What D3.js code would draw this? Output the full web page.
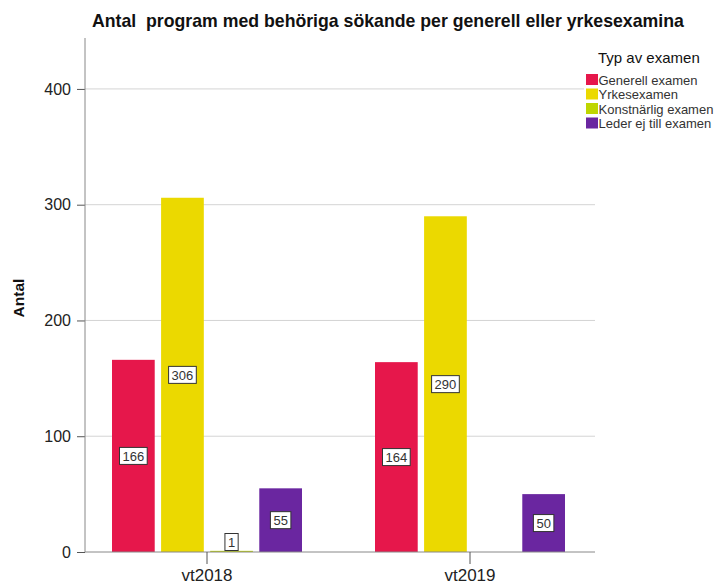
<!DOCTYPE html>
<html>
<head>
<meta charset="utf-8">
<script src="https://cdn.jsdelivr.net/npm/d3@7"></script>
<style>
  html, body { margin: 0; padding: 0; background: #fff; }
  svg { display: block; font-family: Arial, "Liberation Sans", sans-serif; }
</style>
</head>
<body>
<svg id="chart" width="717" height="587"></svg>
<script>
// Terms and exam types
const terms = ["vt2018", "vt2019"];
const examTypes = ["Generell examen", "Yrkesexamen", "Konstnärlig examen", "Leder ej till examen"];
const examColors = ["#e6174b", "#ebd900", "#bfd600", "#6a26a0"];

// Number of programmes per exam type, one array per term
const vt2018 = [166, 306, 1, 55];
const vt2019 = [164, 290, 0, 50];

const yTicks = [0, 100, 200, 300, 400];

const titleText = "Antal  program med behöriga sökande per generell eller yrkesexamina";
const yTitle = "Antal";
const legendTitle = "Typ av examen";

const values = [vt2018, vt2019];

const svg = d3.select("#chart");
const plot = { left: 85, right: 595, top: 38, bottom: 552 };

const x = d3.scaleBand().domain(terms).range([75.5, 601.5]).padding(0);
const inner = d3.scaleBand().domain(examTypes).range([-95, 95]).paddingInner(0.13).paddingOuter(0);
const y = d3.scaleLinear().domain([0, 444]).range([plot.bottom, plot.top]);

// Title
svg.append("text")
  .attr("x", 92).attr("y", 27)
  .attr("font-size", 17.7).attr("font-weight", "bold").attr("fill", "#111")
  .style("white-space", "pre")
  .attr("xml:space", "preserve")
  .text(titleText);

// Grid lines
svg.append("g").selectAll("line")
  .data(yTicks.filter(d => d > 0))
  .join("line")
  .attr("x1", plot.left).attr("x2", plot.right)
  .attr("y1", d => y(d)).attr("y2", d => y(d))
  .attr("stroke", "#d4d4d4").attr("stroke-width", 1);

// Y axis
const yAxis = svg.append("g")
  .attr("transform", `translate(${plot.left},0)`)
  .call(d3.axisLeft(y).tickValues(yTicks).tickSize(8).tickPadding(6).tickFormat(d3.format("d")));
yAxis.select(".domain").remove();
yAxis.selectAll(".tick line").attr("stroke", "#555");
yAxis.selectAll(".tick text").attr("font-size", 16).attr("fill", "#222").attr("font-family", "Arial, 'Liberation Sans', sans-serif");
svg.append("line")
  .attr("x1", plot.left).attr("x2", plot.left)
  .attr("y1", plot.top).attr("y2", plot.bottom)
  .attr("stroke", "#888");

// Y title
svg.append("text")
  .attr("transform", `translate(24,298) rotate(-90)`)
  .attr("text-anchor", "middle")
  .attr("font-size", 15.5).attr("font-weight", "bold").attr("fill", "#111")
  .text(yTitle);

// Bars
const groups = svg.append("g").selectAll("g")
  .data(terms.map((t, i) => ({ term: t, vals: values[i] })))
  .join("g")
  .attr("transform", d => `translate(${x(d.term) + x.bandwidth() / 2},0)`);

const cells = groups.selectAll("g.cell")
  .data(d => d.vals.map((v, j) => ({ type: examTypes[j], value: v, color: examColors[j] })))
  .join("g").attr("class", "cell");

cells.filter(d => d.value > 0).append("rect")
  .attr("x", d => inner(d.type))
  .attr("width", inner.bandwidth())
  .attr("y", d => y(d.value))
  .attr("height", d => y(0) - y(d.value))
  .attr("fill", d => d.color);

// X axis
svg.append("line")
  .attr("x1", plot.left).attr("x2", plot.right)
  .attr("y1", plot.bottom).attr("y2", plot.bottom)
  .attr("stroke", "#888");
const xAxis = svg.append("g")
  .attr("transform", `translate(0,${plot.bottom})`)
  .call(d3.axisBottom(x).tickSize(12).tickPadding(5));
xAxis.select(".domain").remove();
xAxis.selectAll(".tick line").attr("stroke", "#555");
xAxis.selectAll(".tick text").attr("font-size", 17).attr("fill", "#222").attr("font-family", "Arial, 'Liberation Sans', sans-serif");

// Value labels
const labels = cells.filter(d => d.value > 0).append("g")
  .attr("transform", d => {
    const cx = inner(d.type) + inner.bandwidth() / 2;
    let cy = (y(d.value) + y(0)) / 2;
    cy = Math.min(cy, y(0) - 10);
    return `translate(${cx},${cy})`;
  });
labels.append("text")
  .attr("text-anchor", "middle").attr("dy", "0.36em")
  .attr("font-size", 13).attr("fill", "#333")
  .text(d => d.value);
labels.each(function() {
  const g = d3.select(this);
  const bb = g.select("text").node().getBBox();
  g.insert("rect", "text")
    .attr("x", bb.x - 3).attr("y", -8.5)
    .attr("width", bb.width + 6).attr("height", 17)
    .attr("fill", "#fff").attr("stroke", "#333").attr("stroke-width", 1);
});

// Legend
const legend = svg.append("g").attr("transform", "translate(584,0)");
legend.append("rect").attr("x", 0).attr("y", 70).attr("width", 133).attr("height", 66).attr("fill", "#fff");
legend.append("text")
  .attr("x", 14).attr("y", 63)
  .attr("font-size", 15).attr("fill", "#111")
  .text(legendTitle);
const items = legend.selectAll("g.item")
  .data(examTypes)
  .join("g").attr("class", "item")
  .attr("transform", (d, i) => `translate(2,${74 + i * 14.5})`);
items.append("rect")
  .attr("width", 12).attr("height", 11)
  .attr("fill", (d, i) => examColors[i]);
items.append("text")
  .attr("x", 12.5).attr("y", 10.5)
  .attr("font-size", 13).attr("fill", "#333")
  .text(d => d);
</script>
</body>
</html>
